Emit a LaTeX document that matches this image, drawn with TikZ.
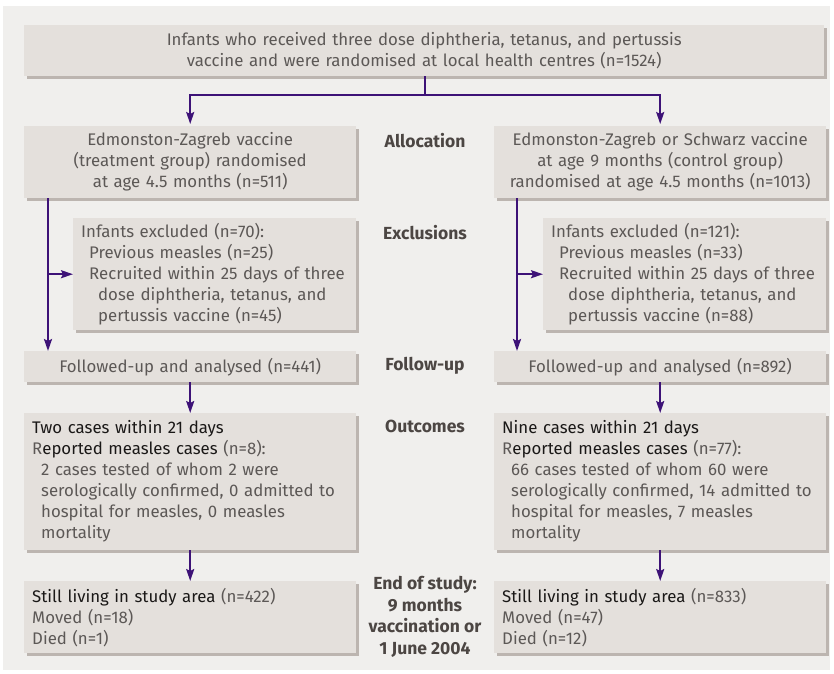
\documentclass[tikz,border=0pt]{standalone}
\usepackage{fontspec}
\setmainfont{Fira Sans}
\usepackage{tikz}
\usetikzlibrary{positioning,arrows.meta,shadows}

\definecolor{pagebg}{HTML}{F0EFED}
\definecolor{boxfill}{HTML}{E4E0DC}
\definecolor{boxshadow}{HTML}{BCB5B0}
\definecolor{flowpurple}{HTML}{3D1277}
\definecolor{textgray}{HTML}{5C5856}
\definecolor{textdark}{HTML}{1A1817}
\definecolor{labelgray}{HTML}{4C4643}

\tikzset{
    box/.style={rectangle, fill=boxfill, text=textgray, anchor=north west,
        inner xsep=8pt, inner ysep=0pt,
        drop shadow={shadow xshift=3pt, shadow yshift=-3pt, fill=boxshadow, opacity=1},
        font=\fontsize{16.8}{21}\selectfont},
    armbox/.style={box, text width=316pt, minimum height=#1},
    exclbox/.style={box, text width=267pt, minimum height=112pt, align=left},
    stage/.style={text=labelgray, align=center, font=\bfseries\fontsize{17.5}{21.5}\selectfont},
    flow/.style={draw=flowpurple, line width=2pt},
    arr/.style={flow, -{Stealth[length=12pt, width=8pt, inset=2pt]}}
}

\begin{document}
\begin{tikzpicture}[x=1pt, y=-1pt]
    \useasboundingbox (0,0) rectangle (834,673);
    \fill[pagebg] (3,6) rectangle (830,670);

    % Enrolment
    \node[box, text width=784pt, minimum height=51pt, align=center] (infants) at (24,25)
        {Infants who received three dose diphtheria, tetanus, and pertussis\\
         vaccine and were randomised at local health centres (n=1524)};

    % Allocation
    \node[armbox=72pt, align=center] (allocT) at (24,126)
        {Edmonston-Zagreb vaccine\\(treatment group) randomised\\at age 4.5 months (n=511)};
    \node[armbox=72pt, align=center] (allocC) at (494,126)
        {Edmonston-Zagreb or Schwarz vaccine\\at age 9 months (control group)\\randomised at age 4.5 months (n=1013)};

    % Exclusions
    \node[exclbox] (exclT) at (73,218)
        {Infants excluded (n=70):\\
         \hspace*{8pt}Previous measles (n=25)\\
         \hspace*{8pt}Recruited within 25 days of three\\
         \hspace*{17pt}dose diphtheria, tetanus, and\\
         \hspace*{17pt}pertussis vaccine (n=45)};
    \node[exclbox] (exclC) at (543,218)
        {Infants excluded (n=121):\\
         \hspace*{8pt}Previous measles (n=33)\\
         \hspace*{8pt}Recruited within 25 days of three\\
         \hspace*{17pt}dose diphtheria, tetanus, and\\
         \hspace*{17pt}pertussis vaccine (n=88)};

    % Follow-up
    \node[armbox=31pt, align=center] (followT) at (24,351) {Followed-up and analysed (n=441)};
    \node[armbox=31pt, align=center] (followC) at (494,351) {Followed-up and analysed (n=892)};

    % Outcomes
    \node[armbox=137pt, align=left] (outT) at (24,413)
        {{\color{textdark}Two cases within 21 days}\\
         R{\color{textdark}eported measles cases} (n=8):\\
         \hspace*{9pt}2 cases tested of whom 2 were\\
         \hspace*{9pt}serologically confirmed, 0 admitted to\\
         \hspace*{9pt}hospital for measles, 0 measles\\
         \hspace*{9pt}mortality};
    \node[armbox=137pt, align=left] (outC) at (494,413)
        {{\color{textdark}Nine cases within 21 days}\\
         R{\color{textdark}eported measles cases} (n=77):\\
         \hspace*{9pt}66 cases tested of whom 60 were\\
         \hspace*{9pt}serologically confirmed, 14 admitted to\\
         \hspace*{9pt}hospital for measles, 7 measles\\
         \hspace*{9pt}mortality};

    % End of study
    \node[armbox=72pt, align=left] (endT) at (24,581)
        {{\color{textdark}Still living in study area} (n=422)\\Moved (n=18)\\Died (n=1)};
    \node[armbox=72pt, align=left] (endC) at (494,581)
        {{\color{textdark}Still living in study area} (n=833)\\Moved (n=47)\\Died (n=12)};

    % Stage labels
    \node[stage] (lblAlloc) at (425,141) {Allocation};
    \node[stage] (lblExcl) at (425,233) {Exclusions};
    \node[stage] (lblFollow) at (425,366) {Follow-up};
    \node[stage] (lblOut) at (425,426) {Outcomes};
    \node[stage] (lblEnd) at (425,617) {End of study:\\9 months\\vaccination or\\1 June 2004};

    % Arrows
    \coordinate (split) at (425,95);
    \coordinate (trunkT) at (48,198);
    \coordinate (trunkC) at (517,198);
    \draw[flow] (infants.south -| split) -- (split);
    \draw[arr, shorten >=2pt] (split) -| (allocT.north);
    \draw[arr, shorten >=2pt] (split) -| (allocC.north);
    \draw[arr] (trunkT) -- (trunkT |- followT.north);
    \draw[arr] (trunkC) -- (trunkC |- followC.north);
    \draw[arr] (trunkT |- exclT.west) -- (exclT.west);
    \draw[arr] (trunkC |- exclC.west) -- (exclC.west);
    \draw[arr] (followT) -- (outT);
    \draw[arr] (followC) -- (outC);
    \draw[arr] (outT) -- (endT);
    \draw[arr] (outC) -- (endC);
\end{tikzpicture}
\end{document}
